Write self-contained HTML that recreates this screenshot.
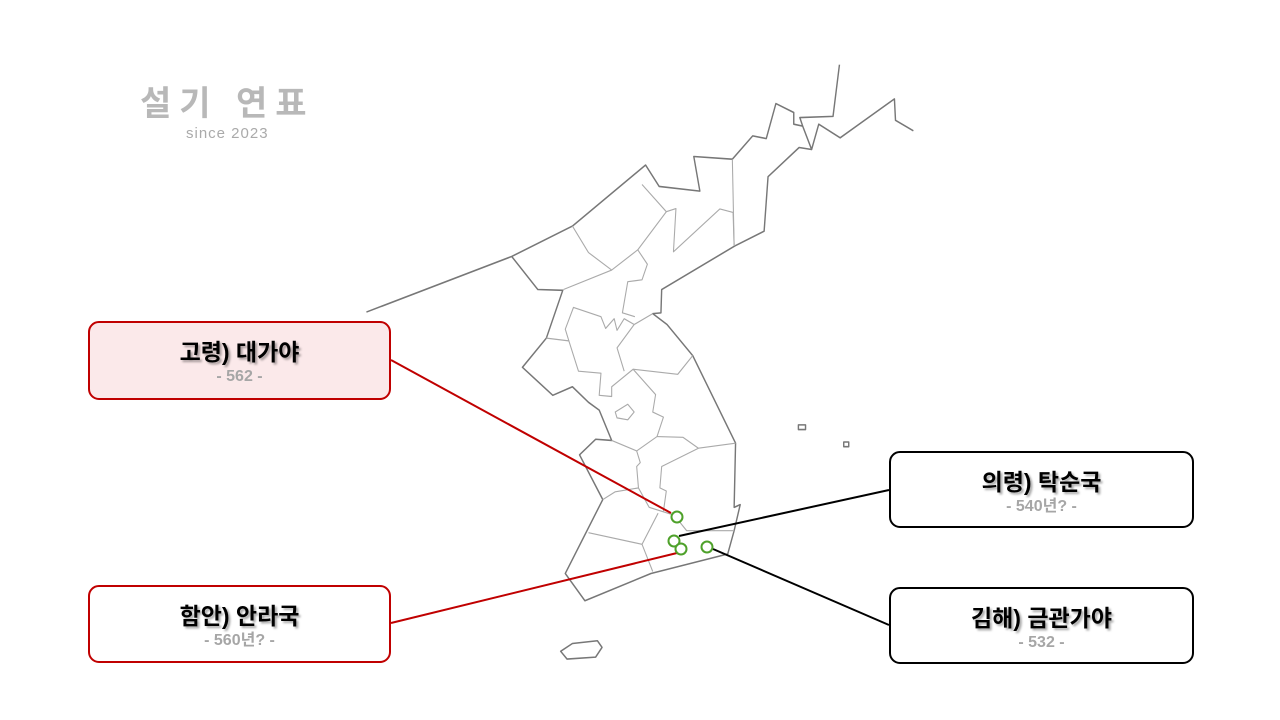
<!DOCTYPE html>
<html><head><meta charset="utf-8"><style>
body{margin:0;width:1280px;height:720px;background:#fff;position:relative;overflow:hidden;font-family:"Liberation Sans","Noto Sans CJK KR",sans-serif}
.box{position:absolute;box-sizing:border-box;border:2.5px solid #000;border-radius:11px;background:#fff;text-align:center}
.red{border-color:#c00000}
.t{font-weight:bold;font-size:23px;color:#000;margin-top:14px;line-height:30px;text-shadow:2px 2px 2px rgba(0,0,0,.35)}
.s{font-weight:bold;font-size:16px;color:#a6a6a6;line-height:20px}
</style></head><body>
<div style="position:absolute;left:140px;top:84px;font-size:34px;font-weight:bold;color:#b8b8b8;letter-spacing:8px;line-height:40px">설기 연표</div>
<div style="position:absolute;left:186px;top:125px;font-size:15px;color:#aaa;letter-spacing:1px">since 2023</div>
<svg width="1280" height="720" style="position:absolute;left:0;top:0">
<g transform="translate(360,60) scale(0.357,0.389)" fill="none" stroke-linejoin="round">
<g stroke="#777" stroke-width="4">
<polyline points="18,648 425,505 595,427 800,270 838,325 952,337 935,248 1043,255 1100,195 1138,202 1165,112 1215,135 1215,165 1240,170 1232,148 1325,145 1343,12"/>
<polyline points="1240,170 1265,230 1285,165 1345,200 1497,100 1500,155 1550,182"/>
<polyline points="1265,230 1230,225 1143,300 1132,440 1050,478 845,590 843,650 820,652 860,680 932,760 1052,985 1048,1150 1065,1143 1048,1210 1030,1270 815,1320 630,1390 575,1320 680,1130 615,1015 660,975 705,978 670,900 640,880 595,840 540,862 455,790 522,715 568,592 498,590 425,505"/>
<polygon points="562,1520 595,1500 665,1493 678,1510 660,1535 580,1540"/>
<rect x="1228" y="938" width="20" height="12"/>
<rect x="1355" y="982" width="14" height="12"/>
</g>
<g stroke="#aaa" stroke-width="3">
<polyline points="595,427 640,495 705,540 778,488 805,525 790,565 750,570 735,650 770,660"/>
<polyline points="705,540 570,590"/>
<polyline points="790,320 858,390 778,488"/>
<polyline points="858,390 885,382 878,493 1008,383 1045,392 1048,478"/>
<polyline points="1043,255 1048,478"/>
<polyline points="522,715 585,722 575,692 598,636 675,660 688,690 712,665 720,695 740,665 768,680 820,652"/>
<polyline points="585,722 612,800 675,805 670,862 705,865 705,840 765,795 890,808 932,760"/>
<polyline points="768,680 720,740 740,800"/>
<polyline points="765,795 828,860 820,905 850,918 832,968 775,1005 705,978"/>
<polygon points="715,905 750,885 768,905 750,925 720,920"/>
<polyline points="832,968 905,970 948,998 1052,985"/>
<polyline points="775,1005 785,1035 775,1045 780,1100 810,1150 880,1170"/>
<polyline points="948,998 845,1045 840,1100 858,1108 850,1160"/>
<polyline points="680,1130 715,1110 780,1100"/>
<polyline points="640,1215 790,1245 835,1165"/>
<polyline points="790,1245 820,1315"/>
<polyline points="880,1170 915,1210 1048,1210"/>
</g>
</g>
<g stroke-width="2">
<line x1="391" y1="360" x2="671" y2="513" stroke="#c00000"/>
<line x1="391" y1="623" x2="677" y2="553" stroke="#c00000"/>
<line x1="679" y1="536" x2="889" y2="490" stroke="#000"/>
<line x1="713" y1="549" x2="889" y2="625" stroke="#000"/>
</g>
<g fill="#fff" stroke="#4ea12a" stroke-width="2">
<circle cx="677" cy="517" r="5.5"/>
<circle cx="674" cy="541" r="5.5"/>
<circle cx="681" cy="549" r="5.5"/>
<circle cx="707" cy="547" r="5.5"/>
</g>
</svg>
<div class="box red" style="left:88px;top:321px;width:303px;height:79px;background:#fbe9ea"><div class="t">고령) 대가야</div><div class="s">- 562 -</div></div>
<div class="box red" style="left:88px;top:585px;width:303px;height:78px"><div class="t">함안) 안라국</div><div class="s">- 560년? -</div></div>
<div class="box" style="left:889px;top:451px;width:305px;height:77px"><div class="t">의령) 탁순국</div><div class="s">- 540년? -</div></div>
<div class="box" style="left:889px;top:587px;width:305px;height:77px"><div class="t">김해) 금관가야</div><div class="s">- 532 -</div></div>
</body></html>
